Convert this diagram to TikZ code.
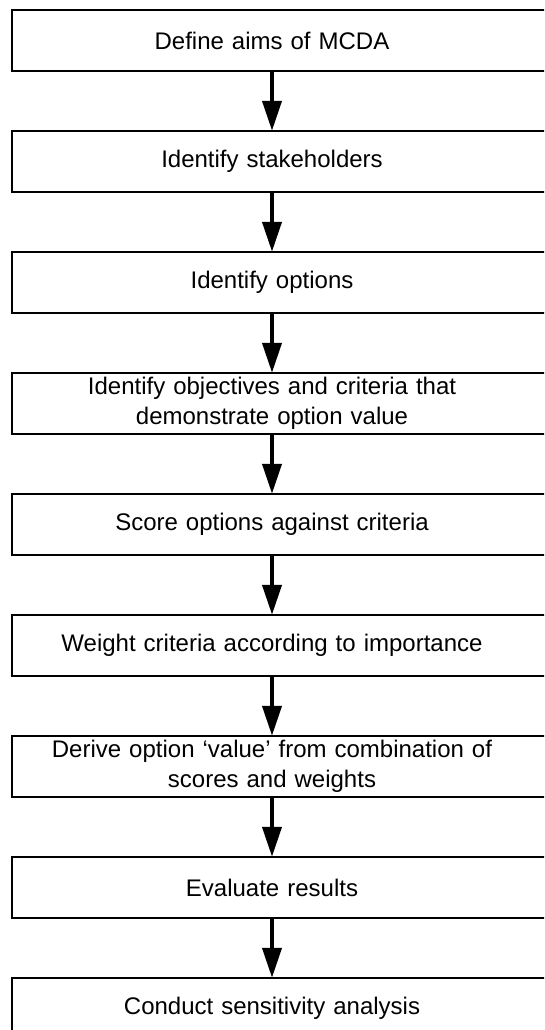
\documentclass[tikz,border=0pt]{standalone}
\usepackage{fontspec}
\setmainfont{Liberation Sans}
\usetikzlibrary{positioning,arrows.meta}

\begin{document}
\begin{tikzpicture}[x=1pt,y=1pt]
    \tikzset{StepStyle/.style = {%
        text width = 520pt,
        inner xsep = 0pt,
        minimum height = 61pt,
        align = center,
        font = \fontsize{24}{30}\selectfont},
      FrameStyle/.style = {draw, line width = 2pt},
      FlowStyle/.style = {-{Triangle[width=19pt,length=30pt]}, line width = 4pt}}
    \useasboundingbox (0,0) rectangle (544,-1030);
    \clip (0,0) rectangle (544,-1030);
    \node[StepStyle] (aims) at (272,-40.5) {Define aims of MCDA};
    \node[StepStyle, below=59.6pt of aims] (stakeholders) {Identify stakeholders};
    \node[StepStyle, below=59.6pt of stakeholders] (options) {Identify options};
    \node[StepStyle, below=59.6pt of options] (objectives)
        {Identify objectives and criteria that\\demonstrate option value};
    \node[StepStyle, below=59.6pt of objectives] (score) {Score options against criteria};
    \node[StepStyle, below=59.6pt of score] (weight) {Weight criteria according to importance};
    \node[StepStyle, below=59.6pt of weight] (derive)
        {Derive option ‘value’ from combination of\\scores and weights};
    \node[StepStyle, below=59.6pt of derive] (evaluate) {Evaluate results};
    \node[StepStyle, below=59.6pt of evaluate] (sensitivity) {Conduct sensitivity analysis};
    % frames run past the right edge
    \foreach \v in {aims,stakeholders,options,objectives,score,weight,derive,evaluate,sensitivity}
      \draw[FrameStyle] (\v.north west) rectangle ([xshift=40pt]\v.south east);
    \foreach \a/\b in {aims/stakeholders,stakeholders/options,options/objectives,%
        objectives/score,score/weight,weight/derive,derive/evaluate,evaluate/sensitivity}
      \draw[FlowStyle] (\a) -- (\b);
  \end{tikzpicture}
\end{document}
